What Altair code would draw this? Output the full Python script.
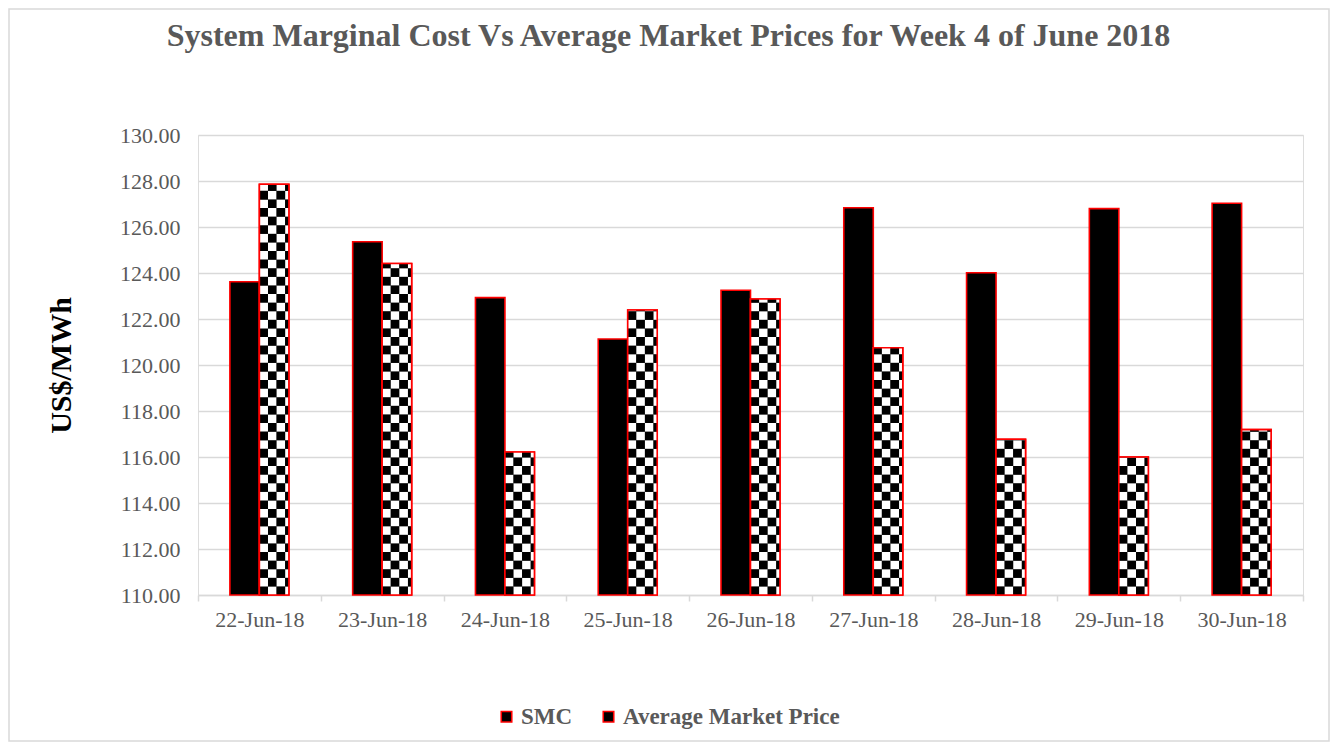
import altair as alt
import pandas as pd

dates = ["22-Jun-18", "23-Jun-18", "24-Jun-18", "25-Jun-18", "26-Jun-18",
         "27-Jun-18", "28-Jun-18", "29-Jun-18", "30-Jun-18"]
smc = [123.62, 125.36, 122.93, 121.13, 123.25, 126.84, 124.01, 126.80, 127.03]
amp = [127.86, 124.41, 116.22, 122.39, 122.87, 120.75, 116.77, 116.00, 117.19]
series_names = ["SMC", "Average Market Price"]

rows = []
for i, d in enumerate(dates):
    rows.append({"date": d, "idx": i, "series": series_names[0], "value": smc[i]})
    rows.append({"date": d, "idx": i, "series": series_names[1], "value": amp[i]})
df = pd.DataFrame(rows)

PW, PH = 1105, 460
W = 29.5 / (PW / 9)       # bar width in x units
SW = 8.6 / (PW / 9)       # checker square width
SH = 8.6 / (PH / 20)      # checker square height

FONT = "Liberation Serif"
GRAY = "#595959"
GRID = "#d9d9d9"

xs = alt.Scale(domain=[0, 9], nice=False, zero=False)
ys = alt.Scale(domain=[110, 130], nice=False, zero=False)

date_js = "[" + ",".join("'" + d + "'" for d in dates) + "]"
xaxis = alt.Axis(
    title=None,
    values=[k * 0.5 for k in range(19)],
    labelExpr=f"datum.value % 1 == 0.5 ? {date_js}[floor(datum.value)] : ''",
    labelOverlap=False, labelFlush=False,
    labelFont=FONT, labelFontSize=22, labelColor=GRAY, labelPadding=8,
    tickSize=6, tickColor=GRID, tickWidth=1.5,
    tickOpacity={"condition": {"test": "datum.value % 1 == 0", "value": 1}, "value": 0},
    domainColor=GRID, domainWidth=1.5, grid=False,
)
yaxis = alt.Axis(
    title="US$/MWh", titleFont=FONT, titleFontSize=30, titleFontWeight="bold",
    titleColor="black", titlePadding=43,
    values=list(range(110, 131, 2)), format=".2f",
    labelFont=FONT, labelFontSize=22, labelColor=GRAY, labelPadding=18,
    ticks=False, domain=False, grid=True, gridColor=GRID, gridWidth=1.5,
)

xenc = alt.X("x0:Q", scale=xs, axis=xaxis)
yenc = alt.Y("value:Q", scale=ys, axis=yaxis)

calc = dict(
    x0=f"datum.idx + 0.5 - (datum.series == 'SMC' ? {W} : 0)",
    x1=f"datum.idx + 0.5 + (datum.series == 'SMC' ? 0 : {W})",
)

bars = alt.Chart(df).transform_calculate(**calc).mark_bar(
    stroke="red", strokeWidth=1.6
).encode(
    x=xenc, x2="x1:Q", y=yenc, y2=alt.datum(110),
    color=alt.Color(
        "series:N",
        scale=alt.Scale(domain=series_names, range=["black", "black"]),
        legend=alt.Legend(
            title=None, orient="none", legendX=297, legendY=570,
            direction="horizontal", symbolType="square", symbolSize=110,
            symbolStrokeColor="red", symbolStrokeWidth=1.6,
            labelFont=FONT, labelFontSize=23, labelFontWeight="bold",
            labelColor=GRAY, labelOffset=3, columnPadding=24, labelLimit=500,
        ),
    ),
)

squares = alt.Chart(df).transform_filter(
    "datum.series != 'SMC'"
).transform_calculate(
    rws=f"sequence(0, ceil((datum.value - 110) / {SH}))",
    cls=f"sequence(0, ceil({W} / {SW} - 0.000001))",
).transform_flatten(["rws"], as_=["r"]).transform_flatten(["cls"], as_=["c"]).transform_calculate(
    sx0=f"datum.idx + 0.5 + datum.c * {SW}",
    sx1=f"min(datum.idx + 0.5 + (datum.c + 1) * {SW}, datum.idx + 0.5 + {W})",
    sy0=f"110 + datum.r * {SH}",
    sy1=f"min(110 + (datum.r + 1) * {SH}, datum.value)",
    sq="(datum.r + datum.c) % 2 == 0 ? 'black' : 'white'",
).mark_rect(strokeWidth=0).encode(
    x=alt.X("sx0:Q", scale=xs, axis=xaxis), x2="sx1:Q",
    y=alt.Y("sy0:Q", scale=ys, axis=yaxis), y2="sy1:Q",
    fill=alt.Fill("sq:N", scale=None),
)

outline = alt.Chart(df).transform_filter(
    "datum.series != 'SMC'"
).transform_calculate(**calc).mark_bar(
    filled=False, stroke="red", strokeWidth=1.6
).encode(x=xenc, x2="x1:Q", y=yenc, y2=alt.datum(110))

frame = alt.Chart(pd.DataFrame({"k": [0]})).mark_rect(
    filled=False, stroke=GRID, strokeWidth=1.5
).encode(
    x=alt.value(-189), x2=alt.value(1131), y=alt.value(-126), y2=alt.value(606)
)

chart = alt.layer(frame, bars, squares, outline).properties(
    width=PW, height=PH,
    autosize=alt.AutoSizeParams(type="none"),
    padding={"left": 190, "top": 127, "right": 27, "bottom": 147},
    title=alt.TitleParams(
        "System Marginal Cost Vs Average Market Prices for Week 4 of  June 2018",
        font=FONT, fontSize=32, fontWeight="bold", color=GRAY,
        anchor="middle", frame="group", dx=-82, offset=-70, baseline="alphabetic",
    ),
).configure_view(stroke=None).configure(background="white")

chart.save("out.html", embed_options={"renderer": "svg", "actions": False})
